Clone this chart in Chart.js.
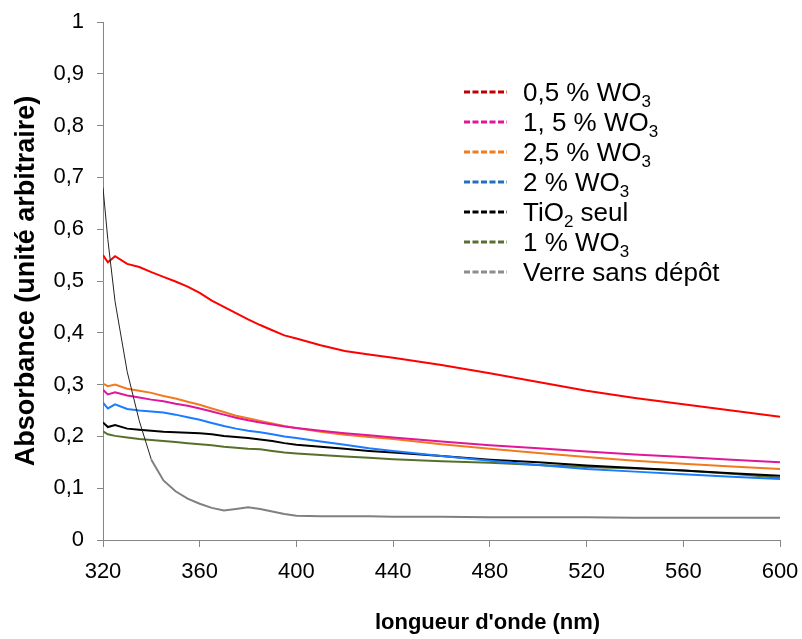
<!DOCTYPE html>
<html>
<head>
<meta charset="utf-8">
<script src="https://cdn.jsdelivr.net/npm/chart.js@4"></script>
<style>
  body { margin: 0; background: #fff; }
  #wrap { position: relative; width: 802px; height: 639px; }
  #legend { position: absolute; left: 464px; top: 77px; font-family: "Liberation Sans", Arial, sans-serif; font-size: 26px; color: #000; }
  #legend .row { height: 30px; display: flex; align-items: center; white-space: nowrap; }
  #legend svg { margin-right: 16px; }
  #legend sub { font-size: 17px; vertical-align: -6px; line-height: 0; }
</style>
</head>
<body>
<div id="wrap">
  <canvas id="myChart" width="802" height="639"></canvas>
  <div id="legend"></div>
</div>
<script>
// spectres d'absorbance
var wavelengths = [320, 322, 325, 330, 335, 340, 345, 350, 355, 360, 365, 370, 375, 380, 385, 390, 395, 400, 410, 420, 430, 440, 460, 480, 500, 520, 540, 560, 580, 600]

var labels = ['0,5 % WO<sub>3</sub>', '1, 5 % WO<sub>3</sub>', '2,5 % WO<sub>3</sub>', '2 % WO<sub>3</sub>', 'TiO<sub>2</sub> seul', '1 % WO<sub>3</sub>', 'Verre sans dépôt']

var wo3_05 = [0.55, 0.536, 0.548, 0.533, 0.527, 0.517, 0.508, 0.499, 0.489, 0.477, 0.462, 0.45, 0.438, 0.426, 0.415, 0.405, 0.395, 0.389, 0.376, 0.365, 0.358, 0.352, 0.338, 0.322, 0.305, 0.288, 0.274, 0.262, 0.25, 0.238]
var wo3_15 = [0.29, 0.281, 0.285, 0.279, 0.275, 0.271, 0.268, 0.263, 0.259, 0.254, 0.248, 0.242, 0.236, 0.231, 0.227, 0.223, 0.219, 0.216, 0.211, 0.206, 0.202, 0.198, 0.19, 0.183, 0.177, 0.171, 0.165, 0.16, 0.155, 0.15]
var wo3_25 = [0.302, 0.297, 0.3, 0.292, 0.288, 0.284, 0.278, 0.273, 0.267, 0.261, 0.254, 0.247, 0.24, 0.235, 0.23, 0.225, 0.22, 0.216, 0.209, 0.203, 0.199, 0.195, 0.185, 0.176, 0.168, 0.16, 0.153, 0.147, 0.142, 0.137]
var wo3_2 = [0.265, 0.254, 0.262, 0.253, 0.25, 0.248, 0.246, 0.242, 0.237, 0.232, 0.226, 0.22, 0.215, 0.211, 0.208, 0.204, 0.2, 0.197, 0.19, 0.184, 0.177, 0.172, 0.162, 0.153, 0.145, 0.137, 0.132, 0.127, 0.122, 0.118]
var tio2 = [0.227, 0.218, 0.222, 0.215, 0.213, 0.211, 0.209, 0.208, 0.207, 0.206, 0.204, 0.201, 0.199, 0.197, 0.194, 0.191, 0.187, 0.184, 0.18, 0.176, 0.172, 0.169, 0.162, 0.155, 0.15, 0.144, 0.139, 0.134, 0.129, 0.124]
var wo3_1 = [0.21, 0.204, 0.201, 0.198, 0.195, 0.193, 0.191, 0.189, 0.187, 0.185, 0.183, 0.18, 0.178, 0.176, 0.175, 0.172, 0.169, 0.167, 0.164, 0.161, 0.159, 0.156, 0.152, 0.149, 0.145, 0.141, 0.138, 0.134, 0.128, 0.12]
var verre = [0.68, 0.58, 0.46, 0.325, 0.23, 0.155, 0.115, 0.094, 0.08, 0.07, 0.062, 0.057, 0.06, 0.063, 0.06, 0.055, 0.05, 0.047, 0.046, 0.046, 0.046, 0.045, 0.045, 0.044, 0.044, 0.044, 0.043, 0.043, 0.043, 0.043]

var yTicks = [0, 0.1, 0.2, 0.3, 0.4, 0.5, 0.6, 0.7, 0.8, 0.9, 1]
var xTicks = [320, 360, 400, 440, 480, 520, 560, 600]
var xTitle = "longueur d'onde (nm)"

var series = [wo3_05, wo3_15, wo3_25, wo3_2, tio2, wo3_1, verre]
var lineColors = ['#ff0000', '#e0169b', '#f27a1e', '#1a7cff', '#000000', '#56702c', '#808080']
var legendColors = ['#c00000', '#e0169b', '#ef7d22', '#1f6fc4', '#000000', '#5a6f34', '#8c8c8c']

var ctx = document.getElementById('myChart')
var font = '"Liberation Sans", Arial, sans-serif'
var axisGray = '#868686'

function pts(values) {
    return wavelengths.map((w, i) => ({ x: w, y: values[i] }))
}

var datasets = series.map((s, i) => {
    var ds = {
        label: labels[i],
        data: pts(s),
        borderColor: lineColors[i],
        borderWidth: 2,
        pointRadius: 0,
        tension: 0
    }
    return ds
})
// la partie raide du verre est tracée en trait fin sombre
datasets[6].segment = {
    borderColor: c => c.p0.parsed.x < 340 ? '#222222' : '#808080',
    borderWidth: c => c.p0.parsed.x < 340 ? 1 : 2
}
// verre au-dessus des autres
datasets[6].order = -1

// titre de l'axe x, un peu décalé à droite comme dans l'original
var xTitlePlugin = {
    id: 'xTitle',
    afterDraw(chart) {
        var a = chart.chartArea
        var c = chart.ctx
        c.save()
        c.font = 'bold 22px ' + font
        c.fillStyle = '#000'
        c.textAlign = 'center'
        c.textBaseline = 'middle'
        c.fillText(xTitle, a.left + (a.right - a.left) * 0.568, 623)
        c.restore()
    }
}

var myChart = new Chart(ctx, {
    type: 'line',
    data: { datasets: datasets },
    plugins: [xTitlePlugin],
    options: {
        responsive: false,
        animation: false,
        layout: { padding: { left: 0, right: 22, top: 22, bottom: 0 } },
        plugins: { legend: { display: false }, tooltip: { enabled: false } },
        scales: {
            x: {
                type: 'linear',
                min: 320,
                max: 600,
                afterBuildTicks: s => { s.ticks = xTicks.map(v => ({ value: v })) },
                afterFit: s => { s.height = 99; s.paddingLeft = 0; s.paddingRight = 0 },
                border: { color: axisGray, width: 1 },
                grid: { drawOnChartArea: false, drawTicks: true, tickLength: 7, color: axisGray },
                ticks: { padding: 12, color: '#000', font: { family: font, size: 22 } }
            },
            y: {
                min: 0,
                max: 1,
                afterBuildTicks: s => { s.ticks = yTicks.map(v => ({ value: v })) },
                afterFit: s => { s.width = 103; s.paddingTop = 0; s.paddingBottom = 0 },
                border: { color: axisGray, width: 1 },
                grid: { drawOnChartArea: false, drawTicks: true, tickLength: 6, color: axisGray },
                ticks: {
                    padding: 13, color: '#000', font: { family: font, size: 22 },
                    callback: v => (v === 0 || v === 1) ? String(v) : v.toFixed(1).replace('.', ',')
                },
                title: { display: true, text: 'Absorbance (unité arbitraire)', color: '#000', font: { family: font, size: 27, weight: 'bold' }, padding: { top: 10, bottom: 0 } }
            }
        }
    }
})

// légende html (indices en <sub>)
var leg = document.getElementById('legend')
datasets.forEach((ds, i) => {
    var row = document.createElement('div')
    row.className = 'row'
    row.innerHTML = '<svg width="43" height="6"><line x1="0" y1="3" x2="43" y2="3" stroke="' + legendColors[i] +
        '" stroke-width="3" stroke-dasharray="6,2.5"/></svg><span>' + ds.label + '</span>'
    leg.appendChild(row)
})
</script>
</body>
</html>
